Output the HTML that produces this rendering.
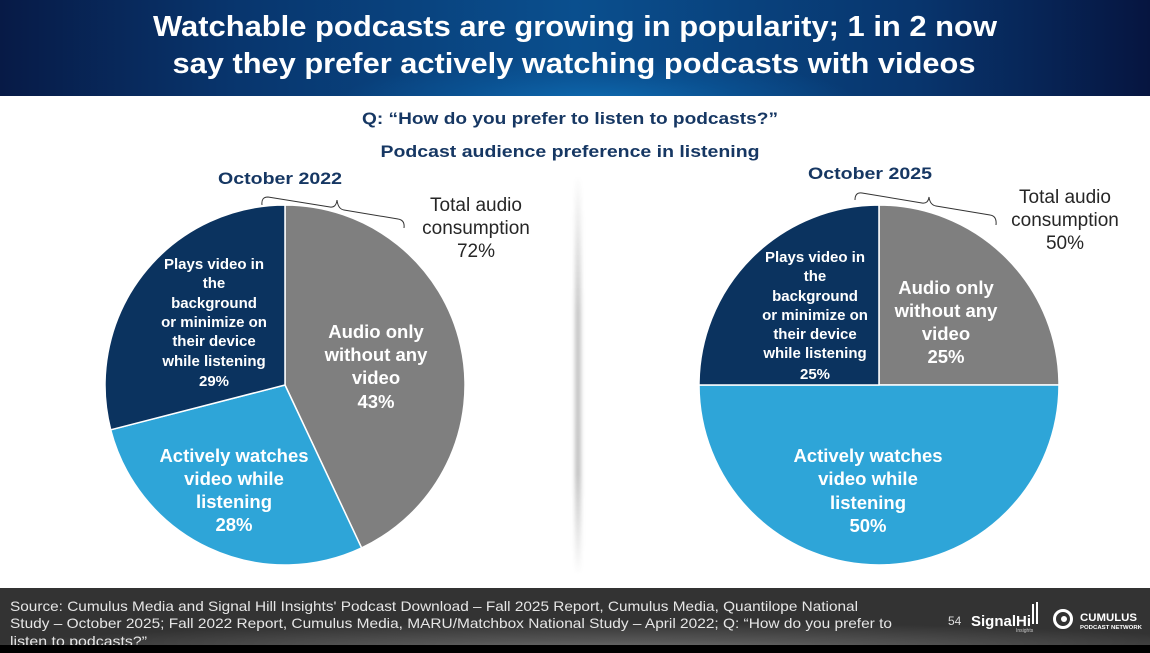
<!DOCTYPE html>
<html><head><meta charset="utf-8"><style>
html,body{margin:0;padding:0;background:#fff;}
svg{display:block;}
</style></head><body>
<svg width="1150" height="653" viewBox="0 0 1150 653" xmlns="http://www.w3.org/2000/svg">
<defs>
<linearGradient id="hdrH" x1="0" y1="0" x2="1" y2="0">
<stop offset="0" stop-color="#071a46"/>
<stop offset="0.2" stop-color="#08356d"/>
<stop offset="0.5" stop-color="#0a4f8e"/>
<stop offset="0.8" stop-color="#08356d"/>
<stop offset="1" stop-color="#061540"/>
</linearGradient>
<radialGradient id="hdrR" cx="0.52" cy="1.05" r="0.45" gradientTransform="translate(0.26,0) scale(0.5,1)">
<stop offset="0" stop-color="#0e6cb2" stop-opacity="0.95"/>
<stop offset="0.6" stop-color="#0c5ea3" stop-opacity="0.4"/>
<stop offset="1" stop-color="#0c5ea3" stop-opacity="0"/>
</radialGradient>
<radialGradient id="ftr" cx="0.55" cy="1.2" r="0.6">
<stop offset="0" stop-color="#808080"/>
<stop offset="0.5" stop-color="#535353"/>
<stop offset="1" stop-color="#333333"/>
</radialGradient>
<linearGradient id="div" x1="0" y1="0" x2="0" y2="1">
<stop offset="0" stop-color="#ffffff"/>
<stop offset="0.35" stop-color="#c4c4c4"/>
<stop offset="0.75" stop-color="#c0c0c0"/>
<stop offset="1" stop-color="#ffffff"/>
</linearGradient>
<filter id="blur" x="-5" y="0" width="11" height="1"><feGaussianBlur stdDeviation="2.2 0"/></filter>
</defs>

<!-- header -->
<rect x="0" y="0" width="1150" height="96" fill="url(#hdrH)"/>
<rect x="0" y="0" width="1150" height="96" fill="url(#hdrR)"/>
<g font-family="Liberation Sans, sans-serif" font-weight="bold" fill="#ffffff" font-size="29" text-anchor="middle">
<text x="575" y="36" textLength="844" lengthAdjust="spacingAndGlyphs">Watchable podcasts are growing in popularity; 1 in 2 now</text>
<text x="574" y="73" textLength="803" lengthAdjust="spacingAndGlyphs">say they prefer actively watching podcasts with videos</text>
</g>

<!-- question -->
<g font-family="Liberation Sans, sans-serif" font-weight="bold" fill="#163763" font-size="17" text-anchor="middle">
<text x="570" y="124" textLength="416" lengthAdjust="spacingAndGlyphs">Q: “How do you prefer to listen to podcasts?”</text>
<text x="570" y="157" textLength="379" lengthAdjust="spacingAndGlyphs">Podcast audience preference in listening</text>
<text x="280" y="184" textLength="124" lengthAdjust="spacingAndGlyphs">October 2022</text>
<text x="870" y="179" textLength="124" lengthAdjust="spacingAndGlyphs">October 2025</text>
</g>

<!-- divider shadow -->
<rect x="575" y="175" width="6" height="400" fill="url(#div)" filter="url(#blur)"/>

<!-- left pie -->
<g stroke="#ffffff" stroke-width="1.5" stroke-linejoin="round">
<path d="M285,385 L285,205 A180,180 0 0 1 361.6,547.9 Z" fill="#7f7f7f"/>
<path d="M285,385 L361.6,547.9 A180,180 0 0 1 110.7,429.8 Z" fill="#2ea5d8"/>
<path d="M285,385 L110.7,429.8 A180,180 0 0 1 285,205 Z" fill="#0b335f"/>
</g>
<!-- right pie -->
<g stroke="#ffffff" stroke-width="1.5" stroke-linejoin="round">
<path d="M879,385 L879,205 A180,180 0 0 1 1059,385 Z" fill="#7f7f7f"/>
<path d="M879,385 L1059,385 A180,180 0 0 1 699,385 Z" fill="#2ea5d8"/>
<path d="M879,385 L699,385 A180,180 0 0 1 879,205 Z" fill="#0b335f"/>
</g>

<!-- braces -->
<g fill="none" stroke="#333" stroke-width="1">
<path d="M262,205 Q261,197 268,197 L330,207 Q336,208 337,200 Q338,209 344,210 L398,219 Q405,220 404,228"/>
<path d="M855,200 Q855,192 862,193 L922,203 Q928,204 929,197 Q930,205 936,206 L990,215 Q997,216 996,225"/>
</g>

<!-- total audio labels -->
<g font-family="Liberation Sans, sans-serif" fill="#262626" font-size="19" text-anchor="middle">
<text x="476" y="211">Total audio</text>
<text x="476" y="234">consumption</text>
<text x="476" y="257">72%</text>
<text x="1065" y="203">Total audio</text>
<text x="1065" y="226">consumption</text>
<text x="1065" y="249">50%</text>
</g>

<!-- slice labels -->
<g font-family="Liberation Sans, sans-serif" font-weight="bold" fill="#ffffff" text-anchor="middle">
<g font-size="15">
<text x="214" y="269">Plays video in</text>
<text x="214" y="288">the</text>
<text x="214" y="308">background</text>
<text x="214" y="327">or minimize on</text>
<text x="214" y="346">their device</text>
<text x="214" y="366">while listening</text>
<text x="214" y="386">29%</text>

<text x="815" y="262">Plays video in</text>
<text x="815" y="281">the</text>
<text x="815" y="301">background</text>
<text x="815" y="320">or minimize on</text>
<text x="815" y="339">their device</text>
<text x="815" y="358">while listening</text>
<text x="815" y="379">25%</text>
</g>
<g font-size="18.5">
<text x="376" y="338">Audio only</text>
<text x="376" y="361">without any</text>
<text x="376" y="384">video</text>
<text x="376" y="408">43%</text>

<text x="234" y="462">Actively watches</text>
<text x="234" y="485">video while</text>
<text x="234" y="508">listening</text>
<text x="234" y="531">28%</text>

<text x="946" y="294">Audio only</text>
<text x="946" y="317">without any</text>
<text x="946" y="340">video</text>
<text x="946" y="363">25%</text>

<text x="868" y="462">Actively watches</text>
<text x="868" y="485">video while</text>
<text x="868" y="509">listening</text>
<text x="868" y="532">50%</text>
</g>
</g>

<!-- footer -->
<rect x="0" y="588" width="1150" height="57" fill="url(#ftr)"/>
<g font-family="Liberation Sans, sans-serif" fill="#e6e6e6" font-size="14">
<text x="10" y="611" textLength="848" lengthAdjust="spacingAndGlyphs">Source: Cumulus Media and Signal Hill Insights' Podcast Download – Fall 2025 Report, Cumulus Media, Quantilope National</text>
<text x="10" y="628" textLength="882" lengthAdjust="spacingAndGlyphs">Study – October 2025; Fall 2022 Report, Cumulus Media, MARU/Matchbox National Study – April 2022; Q: “How do you prefer to</text>
<text x="10" y="646" textLength="137" lengthAdjust="spacingAndGlyphs">listen to podcasts?”</text>
</g>
<rect x="0" y="645" width="1150" height="8" fill="#000"/>

<!-- logos -->
<g font-family="Liberation Sans, sans-serif" fill="#ffffff">
<text x="948" y="625" font-size="12" fill="#dddddd">54</text>
<text x="971" y="626" font-size="15" font-weight="bold" textLength="60" lengthAdjust="spacingAndGlyphs">SignalHi</text>
<rect x="1032" y="604" width="2" height="20" fill="#fff"/>
<rect x="1036" y="602" width="2" height="22" fill="#fff"/>
<text x="1016" y="632" font-size="5" fill="#cccccc">Insights</text>
<circle cx="1063" cy="619" r="8.5" fill="none" stroke="#fff" stroke-width="3"/>
<circle cx="1064" cy="619" r="3" fill="#fff"/>
<text x="1080" y="621" font-size="11" font-weight="bold" textLength="57" lengthAdjust="spacingAndGlyphs">CUMULUS</text>
<text x="1080" y="629" font-size="5" font-weight="bold" textLength="62" lengthAdjust="spacingAndGlyphs">PODCAST NETWORK</text>
</g>
</svg>
</body></html>
